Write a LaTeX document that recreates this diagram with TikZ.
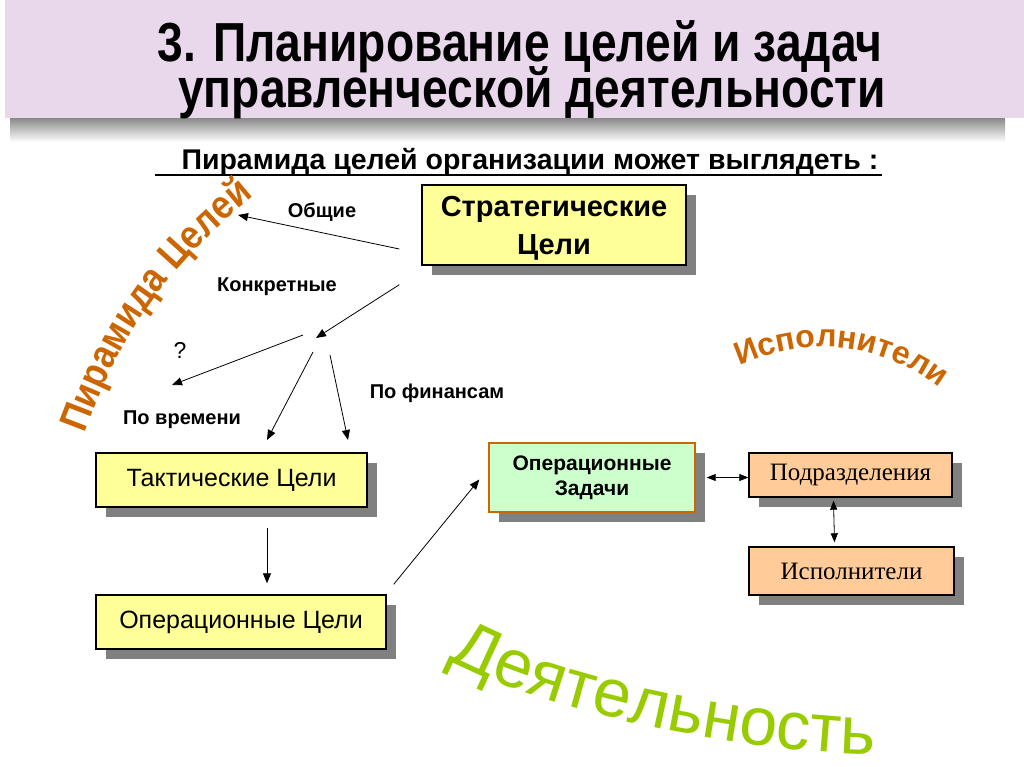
\documentclass[tikz,border=0pt]{standalone}
\usepackage{fontspec}
\setmainfont{Liberation Sans}
\newfontfamily\narrowfont[FakeStretch=0.84]{Liberation Sans}
\newfontfamily\archfont[FakeStretch=0.88]{Liberation Sans}
\newfontfamily\timesfont{Liberation Serif}
\usetikzlibrary{arrows.meta,shadows,decorations.text}
\definecolor{bandbg}{HTML}{E9D7EB}
\definecolor{goalyellow}{HTML}{FFFF99}
\definecolor{taskgreen}{HTML}{CCFFCC}
\definecolor{taskborder}{HTML}{CC6600}
\definecolor{unitpeach}{HTML}{FFCC99}
\definecolor{boxshadow}{HTML}{808080}
\definecolor{wordorange}{HTML}{CC6600}
\definecolor{wordgreen}{HTML}{99CC00}

\begin{document}
\begin{tikzpicture}[x=1pt, y=1pt,
  goalbox/.style={draw, line width=1.4pt, fill=goalyellow, align=center, inner sep=0pt,
    general shadow={fill=boxshadow, shadow xshift=10pt, shadow yshift=-10pt}},
  taskbox/.style={goalbox, draw=taskborder, fill=taskgreen},
  unitbox/.style={goalbox, fill=unitpeach, font=\timesfont\fontsize{25}{28}\selectfont},
  lbl/.style={font=\fontsize{20}{22}\selectfont\bfseries},
  arr/.style={-{Triangle[length=10pt,width=8pt]}, line width=0.8pt},
  dblarr/.style={{Triangle[length=9pt,width=7pt]}-{Triangle[length=9pt,width=7pt]}, line width=0.8pt}]
  \useasboundingbox (0,0) rectangle (1024,-767);
  \fill[white] (0,0) rectangle (1024,-767);

  % Title band
  \shade[top color=black!50, bottom color=white] (10,-116) rectangle (1005,-142);
  \fill[bandbg] (5,0) rectangle (1024,-118);
  \node[anchor=base, font=\narrowfont\bfseries\fontsize{55}{60}\selectfont] (title1) at (520,-62) {3. Планирование целей и задач};
  \node[anchor=base, font=\narrowfont\bfseries\fontsize{55}{60}\selectfont] (title2) at (532,-108) {управленческой деятельности};

  % Subtitle
  \node[anchor=base west, font=\bfseries\fontsize{28.5}{30}\selectfont] (sub) at (178,-170) {Пирамида целей организации может выглядеть :};
  \draw[line width=1.6pt] (155,-175) -- (sub.base east |- 0,-175);

  % Goal boxes
  \node[goalbox, minimum width=264pt, minimum height=80pt, text depth=-5pt, font=\bfseries\fontsize{29}{38}\selectfont] (strat) at (554,-225) {Стратегические\\Цели};
  \node[goalbox, minimum width=271pt, minimum height=54pt, font=\fontsize{25}{28}\selectfont] (tact) at (231.5,-480) {Тактические Цели};
  \node[goalbox, minimum width=290pt, minimum height=54pt, font=\fontsize{25}{28}\selectfont] (opgoal) at (241,-622) {Операционные Цели};

  % Tasks and executors
  \node[taskbox, minimum width=206pt, minimum height=69pt, font=\bfseries\fontsize{21}{25}\selectfont] (task) at (592,-477.5) {Операционные\\Задачи};
  \node[unitbox, minimum width=203pt, minimum height=44pt] (div) at (850.5,-475) {Подразделения};
  \node[unitbox, minimum width=205pt, minimum height=48pt] (exec) at (851.5,-571) {Исполнители};

  % Branch labels
  \node[lbl] (general) at (322,-212) {Общие};
  \node[lbl] (concrete) at (277,-287) {Конкретные};
  \node[lbl, font=\fontsize{23}{24}\selectfont] (quest) at (180,-350) {?};
  \node[lbl] (bytime) at (182,-420) {По времени};
  \node[lbl] (byfin) at (437,-393) {По финансам};

  % Branch points
  \coordinate (generalEnd) at (238,-215);
  \coordinate (hub) at (316,-338);
  \coordinate (questEnd) at (172,-385);
  \coordinate (timeEnd) at (267,-440);
  \coordinate (finEnd) at (348,-440);

  % Arrows from strategic goals
  \draw[arr] ([shift={(-22pt,-24pt)}]strat.west) -- (generalEnd);
  \draw[arr] ([shift={(-22pt,-19pt)}]strat.south west) -- (hub);
  \draw[arr] ([shift={(-13pt,3pt)}]hub) -- (questEnd);
  \draw[arr] ([shift={(-3pt,-14pt)}]hub) -- (timeEnd);
  \draw[arr] ([shift={(14pt,-17pt)}]hub) -- (finEnd);

  % Arrows between levels
  \draw[arr] ([shift={(35.5pt,-20pt)}]tact.south) -- ([shift={(26pt,11pt)}]opgoal.north);
  \draw[arr] ([shift={(7pt,10pt)}]opgoal.north east) -- ([shift={(-9pt,-2pt)}]task.west);
  \draw[dblarr] ([xshift=11pt]task.east) -- (task.east -| div.west);
  \draw[dblarr] ([shift={(-17pt,-3pt)}]div.south) -- ([shift={(-17pt,4pt)}]exec.north);

  % Word art
  \path[decorate, decoration={text along path, text align=center, text color=wordorange,
    text={|\archfont\bfseries\fontsize{40}{40}\selectfont|Пирамида Целей}}]
    (80,-446) to[bend left=16] (264,-188);
  \path[decorate, decoration={text along path, text align=center, text color=wordorange,
    text={|\bfseries\fontsize{32}{32}\selectfont|Исполнители}}]
    (730,-370) to[bend left=32] (948,-394);
  \path[decorate, decoration={text along path, text align=center, text color=wordgreen,
    text={|\fontsize{68}{68}\selectfont|Деятельность}}]
    (436,-653) .. controls (545,-717) and (770,-755) .. (888,-755);
\end{tikzpicture}
\end{document}
